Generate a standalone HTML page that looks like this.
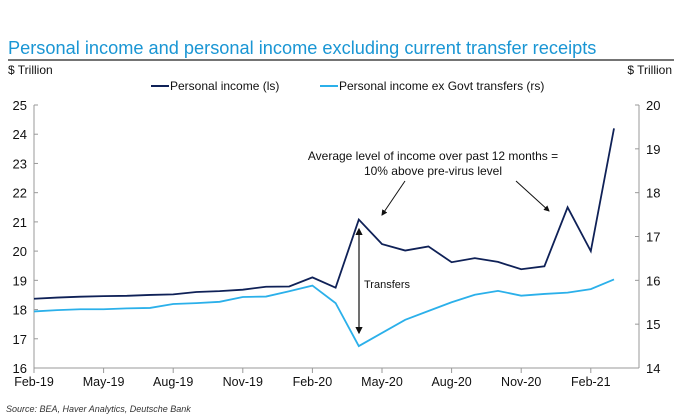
<!DOCTYPE html>
<html><head><meta charset="utf-8"><style>
body{margin:0;background:#fff;font-family:"Liberation Sans",sans-serif}
svg{display:block}
text{font-family:"Liberation Sans",sans-serif}
</style></head><body>
<svg width="680" height="417" viewBox="0 0 680 417">
<text x="8" y="54" font-size="18.2" fill="#1a96d4">Personal income and personal income excluding current transfer receipts</text>
<line x1="8" y1="60" x2="674" y2="60" stroke="#222" stroke-width="1.3"/>
<text x="8" y="74" font-size="12" fill="#111">$ Trillion</text>
<text x="672" y="74" font-size="12" fill="#111" text-anchor="end">$ Trillion</text>
<g>
<line x1="151" y1="86" x2="169" y2="86" stroke="#0f2157" stroke-width="2"/>
<text x="170" y="90" font-size="12" fill="#111">Personal income (ls)</text>
<line x1="320" y1="86" x2="338" y2="86" stroke="#2bb0ea" stroke-width="2"/>
<text x="339" y="90" font-size="12" fill="#111">Personal income ex Govt transfers (rs)</text>
</g>
<g id="axes"></g>
<g id="series"></g>
<g font-size="12" fill="#111">
<text x="433" y="160" text-anchor="middle">Average level of income over past 12 months =</text>
<text x="433" y="175" text-anchor="middle">10% above pre-virus level</text>
<defs><marker id="ah" markerWidth="6" markerHeight="6" refX="5" refY="3" orient="auto"><path d="M0,0 L6,3 L0,6 z" fill="#111"/></marker>
<marker id="ah2" markerWidth="6" markerHeight="6" refX="1" refY="3" orient="auto"><path d="M6,0 L0,3 L6,6 z" fill="#111"/></marker></defs>
<line x1="405" y1="181" x2="382" y2="215" stroke="#111" stroke-width="1" marker-end="url(#ah)"/>
<line x1="516" y1="181" x2="549" y2="211" stroke="#111" stroke-width="1" marker-end="url(#ah)"/>
<line x1="359" y1="229" x2="359" y2="333" stroke="#111" stroke-width="1.2" marker-end="url(#ah)" marker-start="url(#ah2)"/>
<text x="364" y="288" font-size="11">Transfers</text>
</g>
<text x="6" y="412" font-size="9" font-style="italic" fill="#333">Source: BEA, Haver Analytics, Deutsche Bank</text>
</svg>
<script>
const months=["Feb-19","Mar-19","Apr-19","May-19","Jun-19","Jul-19","Aug-19","Sep-19","Oct-19","Nov-19","Dec-19","Jan-20","Feb-20","Mar-20","Apr-20","May-20","Jun-20","Jul-20","Aug-20","Sep-20","Oct-20","Nov-20","Dec-20","Jan-21","Feb-21","Mar-21"];
const personalIncome=[18.37,18.41,18.44,18.46,18.47,18.5,18.52,18.6,18.63,18.68,18.78,18.79,19.1,18.75,21.08,20.24,20.02,20.16,19.62,19.76,19.63,19.38,19.48,21.5,20.0,24.2];
const exTransfers=[15.29,15.32,15.34,15.34,15.36,15.37,15.46,15.48,15.51,15.62,15.63,15.75,15.88,15.48,14.5,14.8,15.1,15.3,15.5,15.67,15.76,15.65,15.69,15.72,15.8,16.02];
const leftTicks=[16,17,18,19,20,21,22,23,24,25];
const rightTicks=[14,15,16,17,18,19,20];
const xTickLabels=["Feb-19","May-19","Aug-19","Nov-19","Feb-20","May-20","Aug-20","Nov-20","Feb-21"];
const NS="http://www.w3.org/2000/svg";
const X0=34,DX=23.2,YB=368,YT=105,XR=639;
const x=i=>X0+i*DX;
const yL=v=>YB-(v-16)/(25-16)*(YB-YT);
const yR=v=>YB-(v-14)/(20-14)*(YB-YT);
function mk(t,a,p){const e=document.createElementNS(NS,t);for(const k in a)e.setAttribute(k,a[k]);p.appendChild(e);return e;}
const ax=document.getElementById('axes');
const g1=mk('line',{x1:X0,y1:YT,x2:X0,y2:YB,stroke:'#999'},ax);


const g2=mk('line',{x1:XR,y1:YT,x2:XR,y2:YB,stroke:'#999'},ax);


const g3=mk('line',{x1:X0,y1:YB,x2:XR,y2:YB,stroke:'#999'},ax);


leftTicks.forEach(v=>{mk('line',{x1:X0,y1:yL(v),x2:X0+4,y2:yL(v),stroke:'#999'},ax);
const t=mk('text',{x:27,y:yL(v)+5,'font-size':13,'text-anchor':'end',fill:'#111'},ax);t.textContent=v;

});
rightTicks.forEach(v=>{mk('line',{x1:XR-4,y1:yR(v),x2:XR,y2:yR(v),stroke:'#999'},ax);
const t=mk('text',{x:646,y:yR(v)+5,'font-size':13,fill:'#111'},ax);t.textContent=v;

});
xTickLabels.forEach(l=>{const i=months.indexOf(l);mk('line',{x1:x(i),y1:YB,x2:x(i),y2:YB+5,stroke:'#999'},ax);
const t=mk('text',{x:x(i),y:YB+18,'font-size':12.5,'text-anchor':'middle',fill:'#111'},ax);t.textContent=l;

});
const s=document.getElementById('series');
const p1=mk('polyline',{points:personalIncome.map((v,i)=>x(i)+','+yL(v)).join(' '),fill:'none',stroke:'#0f2157','stroke-width':1.8},s);


const p2=mk('polyline',{points:exTransfers.map((v,i)=>x(i)+','+yR(v)).join(' '),fill:'none',stroke:'#2bb0ea','stroke-width':1.8},s);


</script>
</body></html>
